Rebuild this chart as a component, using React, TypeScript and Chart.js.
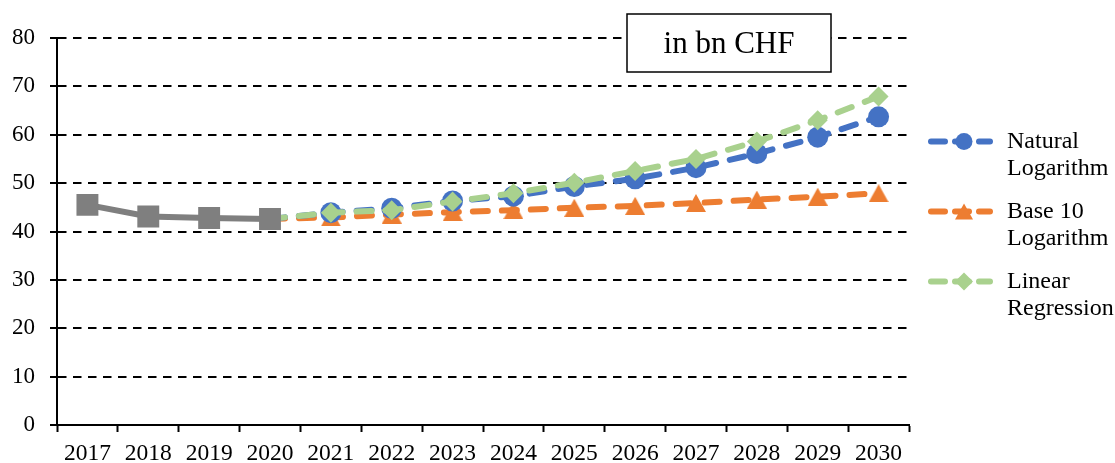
import React, { useEffect, useRef } from "react";
import { Chart, registerables } from "chart.js";

Chart.register(...registerables);

// Years on the horizontal axis
const years = ["2017", "2018", "2019", "2020", "2021", "2022", "2023", "2024", "2025", "2026", "2027", "2028", "2029", "2030"];

// Actual figures (in bn CHF)
const historical = [45.5, 43.1, 42.8, 42.6, null, null, null, null, null, null, null, null, null, null];

// Forecasts, each starting from the last actual value (2020)
const naturalLog = [null, null, null, 42.6, 43.9, 44.8, 46.3, 47.3, 49.3, 50.9, 53.2, 56.1, 59.5, 63.7];
const base10Log = [null, null, null, 42.6, 42.9, 43.5, 44.0, 44.4, 44.9, 45.3, 45.9, 46.6, 47.2, 47.9];
const linearRegression = [null, null, null, 42.6, 43.9, 44.4, 46.2, 47.9, 50.1, 52.5, 55.0, 58.6, 63.0, 67.9];

// Value axis
const yMin = 0;
const yMax = 80;
const yStep = 10;

const unitLabel = "in bn CHF";
const legendNames: string[][] = [
  ["Natural", "Logarithm"],
  ["Base 10", "Logarithm"],
  ["Linear", "Regression"],
];

const FONT = "'Liberation Serif', 'Times New Roman', serif";
const GREY = "#7F7F7F";
const BLUE = "#4472C4";
const ORANGE = "#ED7D31";
const GREEN = "#A9D18E";

const LINE_W = 6;
const DASH = [15, 14];

type Marker = "circle" | "triangle" | "rectRot";

// triangle marker centred on its bounding box
function triangleImage(w: number, h: number, color: string): HTMLCanvasElement {
  const c = document.createElement("canvas");
  c.width = w;
  c.height = h;
  const g = c.getContext("2d")!;
  g.fillStyle = color;
  g.beginPath();
  g.moveTo(w / 2, 0);
  g.lineTo(w, h);
  g.lineTo(0, h);
  g.closePath();
  g.fill();
  return c;
}

function drawMarker(ctx: CanvasRenderingContext2D, kind: Marker, x: number, y: number, r: number, color: string) {
  ctx.save();
  ctx.fillStyle = color;
  ctx.beginPath();
  if (kind === "circle") {
    ctx.arc(x, y, r, 0, Math.PI * 2);
  } else if (kind === "triangle") {
    const w = r * 2;
    const h = r * 1.8;
    ctx.moveTo(x, y - h / 2);
    ctx.lineTo(x + w / 2, y + h / 2);
    ctx.lineTo(x - w / 2, y + h / 2);
    ctx.closePath();
  } else {
    ctx.moveTo(x, y - r);
    ctx.lineTo(x + r, y);
    ctx.lineTo(x, y + r);
    ctx.lineTo(x - r, y);
    ctx.closePath();
  }
  ctx.fill();
  ctx.restore();
}

const legendItems: { color: string; marker: Marker; size: number }[] = [
  { color: BLUE, marker: "circle", size: 8.5 },
  { color: ORANGE, marker: "triangle", size: 9 },
  { color: GREEN, marker: "rectRot", size: 9 },
];

const overlayPlugin = {
  id: "unitBoxAndLegend",
  afterDraw(chart: Chart) {
    const ctx = chart.ctx;
    const area = chart.chartArea;

    // unit box in the upper right of the plot
    const bx = area.right - 282;
    const by = area.top - 24;
    const bw = 204;
    const bh = 58;
    ctx.save();
    ctx.fillStyle = "#fff";
    ctx.fillRect(bx, by, bw, bh);
    ctx.strokeStyle = "#000";
    ctx.lineWidth = 1.5;
    ctx.strokeRect(bx, by, bw, bh);
    ctx.fillStyle = "#000";
    ctx.font = `31px ${FONT}`;
    ctx.textAlign = "center";
    ctx.textBaseline = "middle";
    ctx.fillText(unitLabel, bx + bw / 2, by + bh / 2 + 2);
    ctx.restore();

    // legend to the right of the plot
    const lx0 = area.right + 22;
    const lx1 = area.right + 81;
    const mx = area.right + 55;
    const tx = area.right + 98;
    legendItems.forEach((item, i) => {
      const y = area.top + 103.5 + i * 70;
      ctx.save();
      ctx.strokeStyle = item.color;
      ctx.lineWidth = LINE_W;
      ctx.lineCap = "round";
      ctx.setLineDash([14, 10]);
      ctx.beginPath();
      ctx.moveTo(lx0, y);
      ctx.lineTo(lx1, y);
      ctx.stroke();
      ctx.restore();
      drawMarker(ctx, item.marker, mx, y, item.size, item.color);

      ctx.save();
      ctx.fillStyle = "#000";
      ctx.font = `24px ${FONT}`;
      ctx.textAlign = "left";
      ctx.textBaseline = "middle";
      legendNames[i].forEach((line, j) => {
        ctx.fillText(line, tx, y + j * 27);
      });
      ctx.restore();
    });
  },
};

export default function App() {
  const canvasRef = useRef<HTMLCanvasElement | null>(null);

  useEffect(() => {
    if (!canvasRef.current) return;
    const forecastRadius = (r: number) => (c: any) => (c.dataIndex === 3 ? 0 : r);
    const tri = triangleImage(20, 18, ORANGE);
    const chart = new Chart(canvasRef.current, {
      type: "line",
      data: {
        labels: years,
        datasets: [
          {
            label: "Actual",
            data: historical,
            borderColor: GREY,
            backgroundColor: GREY,
            borderWidth: LINE_W,
            pointStyle: "rect",
            pointRadius: 15.5,
            pointBorderWidth: 0,
            pointBackgroundColor: GREY,
            tension: 0,
            order: 0,
          },
          {
            label: "Linear Regression",
            data: linearRegression,
            borderColor: GREEN,
            backgroundColor: GREEN,
            borderWidth: LINE_W,
            borderDash: DASH,
            borderCapStyle: "round",
            pointStyle: "rectRot",
            pointRadius: forecastRadius(10),
            pointBorderWidth: 0,
            pointBackgroundColor: GREEN,
            tension: 0,
            order: 1,
          },
          {
            label: "Natural Logarithm",
            data: naturalLog,
            borderColor: BLUE,
            backgroundColor: BLUE,
            borderWidth: LINE_W,
            borderDash: DASH,
            borderCapStyle: "round",
            pointStyle: "circle",
            pointRadius: forecastRadius(10.5),
            pointBorderWidth: 0,
            pointBackgroundColor: BLUE,
            tension: 0,
            order: 2,
          },
          {
            label: "Base 10 Logarithm",
            data: base10Log,
            borderColor: ORANGE,
            backgroundColor: ORANGE,
            borderWidth: LINE_W,
            borderDash: DASH,
            borderCapStyle: "round",
            pointStyle: (c: any) => (c.dataIndex === 3 ? false : tri) as any,
            pointRadius: forecastRadius(10),
            pointBorderWidth: 0,
            pointBackgroundColor: ORANGE,
            tension: 0,
            order: 3,
          },
        ],
      },
      options: {
        animation: false,
        responsive: true,
        maintainAspectRatio: false,
        layout: { padding: { left: 0, right: 206, top: 38, bottom: 0 } },
        plugins: {
          legend: { display: false },
          tooltip: { enabled: false },
          title: { display: false },
        },
        scales: {
          x: {
            type: "category",
            offset: true,
            grid: {
              offset: true,
              drawOnChartArea: false,
              drawTicks: true,
              tickLength: 7,
              tickColor: "#000",
              tickWidth: 2,
            },
            border: { display: true, color: "#000", width: 2 },
            ticks: {
              color: "#000",
              font: { family: FONT, size: 23.5 },
              padding: 8,
              maxRotation: 0,
              autoSkip: false,
            },
            afterFit: (s: any) => {
              s.height = 38;
            },
          },
          y: {
            min: yMin,
            max: yMax,
            ticks: {
              stepSize: yStep,
              color: "#000",
              font: { family: FONT, size: 23 },
              padding: 15,
            },
            grid: {
              color: "#000",
              lineWidth: 2,
              drawTicks: true,
              tickLength: 7,
              tickColor: "#000",
              tickWidth: 2,
              tickBorderDash: [],
            },
            border: { display: true, color: "#000", width: 2, dash: [8.5, 6.5] },
            afterFit: (s: any) => {
              s.width = 57;
            },
          },
        },
      },
      plugins: [overlayPlugin],
    });
    return () => chart.destroy();
  }, []);

  return (
    <div style={{ position: "absolute", left: 0, top: 0, width: 1115, height: 463, background: "#fff" }}>
      <canvas ref={canvasRef} />
    </div>
  );
}
